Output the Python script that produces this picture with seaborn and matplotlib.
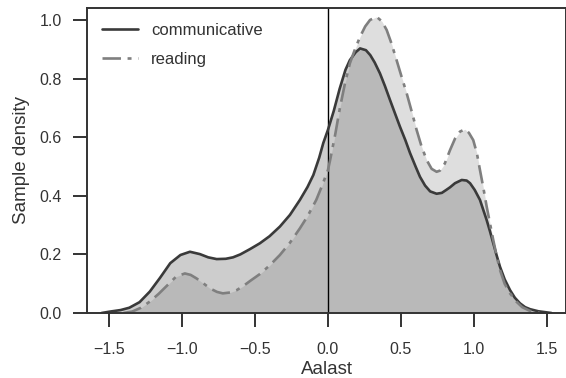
import numpy as np
import pandas as pd
import seaborn as sns
import matplotlib
matplotlib.use("Agg")
import matplotlib.pyplot as plt

# Density curve of "communicative"
comm_x = [-1.55, -1.49, -1.42, -1.36, -1.29, -1.22, -1.15, -1.08, -1.01, -0.945,
          -0.877, -0.82, -0.762, -0.70, -0.65, -0.60, -0.534, -0.466, -0.40, -0.329,
          -0.26, -0.192, -0.14, -0.10, -0.06, -0.032, 0.0, 0.04, 0.08, 0.12,
          0.15, 0.19, 0.22, 0.26, 0.29, 0.32, 0.356, 0.39, 0.425, 0.46,
          0.493, 0.53, 0.562, 0.60, 0.63, 0.665, 0.70, 0.744, 0.78, 0.81,
          0.836, 0.87, 0.916, 0.95, 0.973, 1.005, 1.041, 1.065, 1.087, 1.11,
          1.132, 1.155, 1.178, 1.21, 1.247, 1.28, 1.315, 1.35, 1.384, 1.44,
          1.50, 1.53]
comm_y = [0.0, 0.005, 0.01, 0.018, 0.037, 0.073, 0.12, 0.17, 0.198, 0.209,
          0.201, 0.19, 0.184, 0.185, 0.19, 0.20, 0.218, 0.238, 0.262, 0.295,
          0.335, 0.386, 0.43, 0.471, 0.53, 0.58, 0.625, 0.69, 0.765, 0.83,
          0.863, 0.89, 0.903, 0.897, 0.88, 0.855, 0.818, 0.775, 0.727, 0.68,
          0.636, 0.59, 0.546, 0.50, 0.465, 0.435, 0.415, 0.407, 0.41, 0.42,
          0.429, 0.443, 0.454, 0.452, 0.443, 0.42, 0.386, 0.35, 0.317, 0.278,
          0.238, 0.197, 0.158, 0.115, 0.078, 0.052, 0.033, 0.02, 0.013, 0.006,
          0.002, 0.0]

# Density curve of "reading"
read_x = [-1.40, -1.34, -1.28, -1.22, -1.16, -1.105, -1.04, -0.98, -0.94, -0.90,
          -0.85, -0.808, -0.76, -0.72, -0.67, -0.625, -0.58, -0.534, -0.466, -0.40,
          -0.329, -0.26, -0.192, -0.14, -0.08, -0.04, 0.0, 0.014, 0.05, 0.082,
          0.115, 0.15, 0.185, 0.22, 0.255, 0.288, 0.333, 0.37, 0.402, 0.435,
          0.47, 0.505, 0.539, 0.575, 0.607, 0.64, 0.676, 0.71, 0.744, 0.767,
          0.80, 0.836, 0.87, 0.904, 0.938, 0.965, 0.995, 1.02, 1.041, 1.065,
          1.087, 1.11, 1.132, 1.155, 1.178, 1.21, 1.247, 1.29, 1.33, 1.384,
          1.45]
read_y = [0.0, 0.005, 0.018, 0.039, 0.065, 0.092, 0.124, 0.135, 0.13, 0.118,
          0.10, 0.084, 0.072, 0.067, 0.07, 0.078, 0.092, 0.109, 0.133, 0.162,
          0.198, 0.24, 0.289, 0.33, 0.386, 0.435, 0.488, 0.52, 0.61, 0.70,
          0.78, 0.852, 0.90, 0.943, 0.978, 1.0, 1.011, 0.995, 0.966, 0.92,
          0.863, 0.805, 0.75, 0.685, 0.625, 0.57, 0.522, 0.492, 0.482, 0.486,
          0.51, 0.556, 0.595, 0.619, 0.627, 0.615, 0.59, 0.545, 0.488, 0.425,
          0.363, 0.305, 0.249, 0.195, 0.147, 0.10, 0.067, 0.039, 0.02, 0.007,
          0.0]

series_names = ["communicative", "reading"]
x_ticks = [-1.5, -1.0, -0.5, 0.0, 0.5, 1.0, 1.5]
y_ticks = [0.0, 0.2, 0.4, 0.6, 0.8, 1.0]

sns.set_theme(style="ticks")
plt.rcParams["font.family"] = ["Liberation Sans", "DejaVu Sans"]

fig = plt.figure(figsize=(5.66, 3.78), dpi=100)
ax = fig.add_axes([87 / 566, (378 - 313) / 378, (566 - 87) / 566, (313 - 8) / 378])

comm_color = "#3a3a3a"
read_color = "#7f7f7f"
text_color = "#333333"

df_c = pd.DataFrame({"x": comm_x, "y": comm_y})
df_r = pd.DataFrame({"x": read_x, "y": read_y})

ax.fill_between(df_c["x"], df_c["y"], color=comm_color, alpha=0.25, linewidth=0)
ax.fill_between(df_r["x"], df_r["y"], color=read_color, alpha=0.25, linewidth=0)
sns.lineplot(data=df_c, x="x", y="y", ax=ax, color=comm_color, linewidth=1.9,
             label=series_names[0], sort=False)
sns.lineplot(data=df_r, x="x", y="y", ax=ax, color=read_color, linewidth=1.9,
             label=series_names[1], sort=False)
ax.lines[-1].set_dashes([7, 2.5, 1.5, 2.5])

ax.axvline(0, color="black", linewidth=1.0, zorder=1)

ax.set_xlim(-1.65, (566 - 328) / 146)
ax.set_ylim(0, (313 - 8) / 293)
ax.set_xticks(x_ticks)
ax.set_yticks(y_ticks)
ax.set_xticklabels([f"{t:.1f}".replace("-", "\u2212") for t in x_ticks])
ax.set_yticklabels([f"{t:.1f}" for t in y_ticks])
ax.tick_params(axis="both", length=10, width=1.4, labelsize=11.5,
               colors=text_color)
ax.tick_params(axis="x", pad=11)
ax.tick_params(axis="y", pad=8)
for s in ax.spines.values():
    s.set_linewidth(1.4)
    s.set_color(text_color)

ax.set_xlabel("Aalast", fontsize=13.5, color=text_color, labelpad=3)
ax.set_ylabel("Sample density", fontsize=13.5, color=text_color, labelpad=7)

leg = ax.legend(loc="upper left", frameon=False, fontsize=12, handlelength=2.15,
                handletextpad=0.8, labelspacing=0.85, borderaxespad=0.5)
for t in leg.get_texts():
    t.set_color(text_color)

fig.savefig("out.png", dpi=100)
